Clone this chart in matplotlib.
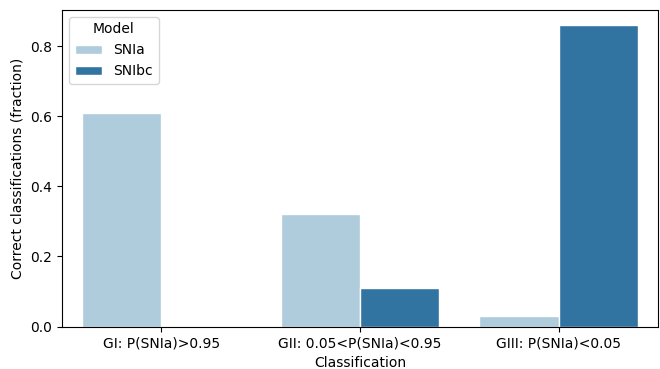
import pandas as pd
import seaborn as sns
import matplotlib
matplotlib.use("Agg")
import matplotlib.pyplot as plt
from matplotlib.ticker import MultipleLocator

classes = ["GI: P(SNIa)>0.95", "GII: 0.05<P(SNIa)<0.95", "GIII: P(SNIa)<0.05"]
models = ["SNIa", "SNIbc"]
snia = [0.61, 0.32, 0.03]
snibc = [0.0, 0.11, 0.86]

df = pd.DataFrame({
    "Classification": classes * 2,
    "Model": [models[0]] * 3 + [models[1]] * 3,
    "fraction": snia + snibc,
})

fig, ax = plt.subplots(figsize=(6.6, 3.69), dpi=100)
sns.barplot(data=df, x="Classification", y="fraction", hue="Model",
            palette="Paired", edgecolor="white", linewidth=1, ax=ax)
ax.set_ylabel("Correct classifications (fraction)")
ax.set_xlabel("Classification")
ax.yaxis.set_major_locator(MultipleLocator(0.2))
ax.legend(title="Model", loc="upper left")
plt.subplots_adjust(left=0.094, right=0.997, top=0.973, bottom=0.115)
plt.savefig("out.png")
